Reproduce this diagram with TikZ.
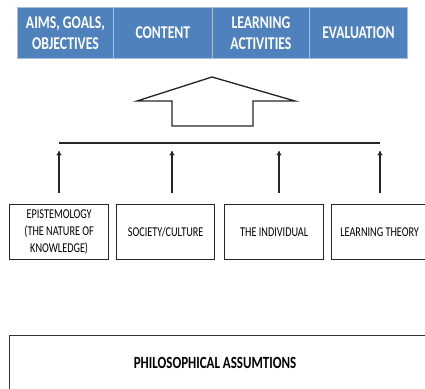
\documentclass[tikz,border=0pt]{standalone}
\usepackage{fontspec}
\setmainfont[FakeStretch=0.76]{Carlito}
\usetikzlibrary{arrows.meta}
\definecolor{cellblue}{HTML}{4F81BD}
\definecolor{celledge}{HTML}{A9C0DD}
\begin{document}
\begin{tikzpicture}[x=0.75pt,y=-0.75pt,
  cell/.style={rectangle,fill=cellblue,draw=celledge,line width=0.6pt,anchor=north west,
    minimum height=38.25pt,inner sep=0pt,align=center,text=white,
    font=\fontsize{13.5}{15.75}\selectfont\bfseries},
  factor/.style={rectangle,draw=black!85,line width=1pt,anchor=north west,
    minimum height=41pt,inner sep=0pt,align=center,
    font=\fontsize{10.1}{12.5}\selectfont},
  link/.style={line width=0.9pt,black!85},
  up/.style={link,-{To[length=3.5pt,width=4pt]}}]
\useasboundingbox (0,0) rectangle (425,389);
% curriculum components
\node[cell,minimum width=72pt]    (aims) at (17,7)  {AIMS, GOALS,\\OBJECTIVES};
\node[cell,minimum width=74.25pt] (cont) at (113,7) {CONTENT};
\node[cell,minimum width=72.75pt] (act)  at (212,7) {LEARNING\\ACTIVITIES};
\node[cell,minimum width=73.5pt]  (eval) at (309,7) {EVALUATION};
% block arrow
\draw[line width=1pt,black!85,line join=miter]
  (212,77) -- (295,101) -- (253,101) -- (253,126) -- (172,126)
  -- (172,101) -- (137,101) -- cycle;
% foundations
\node[factor,minimum width=74.25pt] (epi) at (9,204)   {EPISTEMOLOGY\\(THE NATURE OF\\KNOWLEDGE)};
\node[factor,minimum width=73.5pt]  (soc) at (116,204) {SOCIETY/CULTURE};
\node[factor,minimum width=74.25pt] (ind) at (224,204) {THE INDIVIDUAL};
\node[factor,minimum width=72pt]    (lt)  at (331,204) {LEARNING THEORY};
% collecting bar
\coordinate (barL) at (59,143);
\coordinate (barR) at (380,143);
\draw[link] (barL) -- (barR);
\coordinate (e1) at (59,193);  \coordinate (t1) at (59,151);
\coordinate (e2) at (172,193); \coordinate (t2) at (172,151);
\coordinate (e3) at (279,193); \coordinate (t3) at (279,151);
\coordinate (e4) at (380,193); \coordinate (t4) at (380,151);
\foreach \i in {1,...,4} \draw[up] (e\i) -- (t\i);
% base
\node[rectangle,draw=black!80,line width=1pt,anchor=north west,
  minimum width=312pt,minimum height=40.5pt,inner sep=0pt,
  font=\fontsize{12.8}{14}\selectfont\bfseries] (phil) at (9,335) {\hspace*{-2pt}PHILOSOPHICAL ASSUMTIONS\hspace*{2pt}};
\end{tikzpicture}
\end{document}
